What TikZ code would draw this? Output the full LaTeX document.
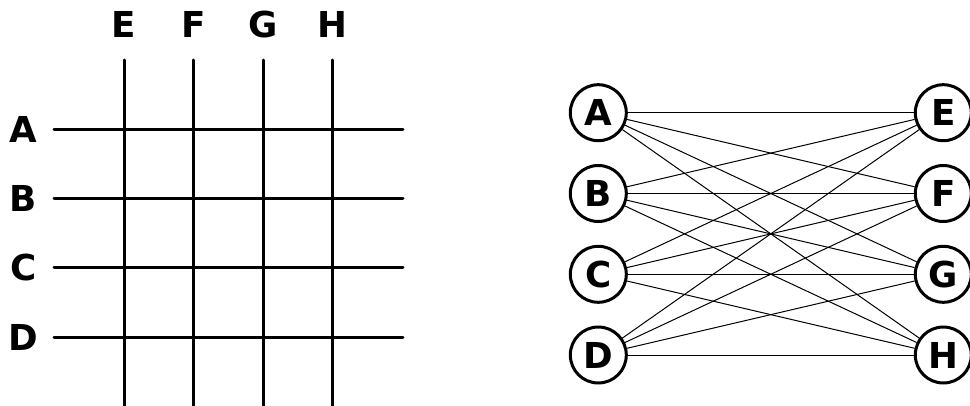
\documentclass[tikz,border=0pt]{standalone}
\usepackage{fontspec}
\setmainfont{DejaVu Sans}
\begin{document}
\begin{tikzpicture}[x=1pt,y=-1pt,
  lbl/.style={inner sep=0pt,font=\fontsize{35.7}{40}\selectfont\bfseries},
  gridline/.style={line width=3pt,line cap=round},
  vnode/.style={circle,draw,line width=3pt,minimum size=56pt,inner sep=0pt,font=\fontsize{35.7}{40}\selectfont\bfseries},
  edge/.style={line width=1pt}]
\useasboundingbox (0,0) rectangle (970,406);
% grid
\foreach \n/\y in {A/129.5,B/198.5,C/268,D/337.5}{
  \node[lbl] (l\n) at (23.5,\y) {\n};
  \draw[gridline] (54,\y) -- (403,\y);
}
\foreach \n/\x in {E/124,F/193.3,G/263,H/332.3}{
  \node[lbl] (t\n) at (\x,24.5) {\n};
  \draw[gridline] (\x,60) -- (\x,410);
}
% bipartite graph
\foreach \n/\y in {A/112.7,B/193.5,C/274.3,D/355}{
  \node[vnode] (\n) at (598.3,\y) {\n};
}
\foreach \n/\y in {E/112.7,F/193.5,G/274.3,H/355}{
  \node[vnode] (\n) at (943.3,\y) {\n};
}
\foreach \a in {A,B,C,D}{
  \foreach \b in {E,F,G,H}{
    \draw[edge] (\a) -- (\b);
  }
}
\end{tikzpicture}
\end{document}
